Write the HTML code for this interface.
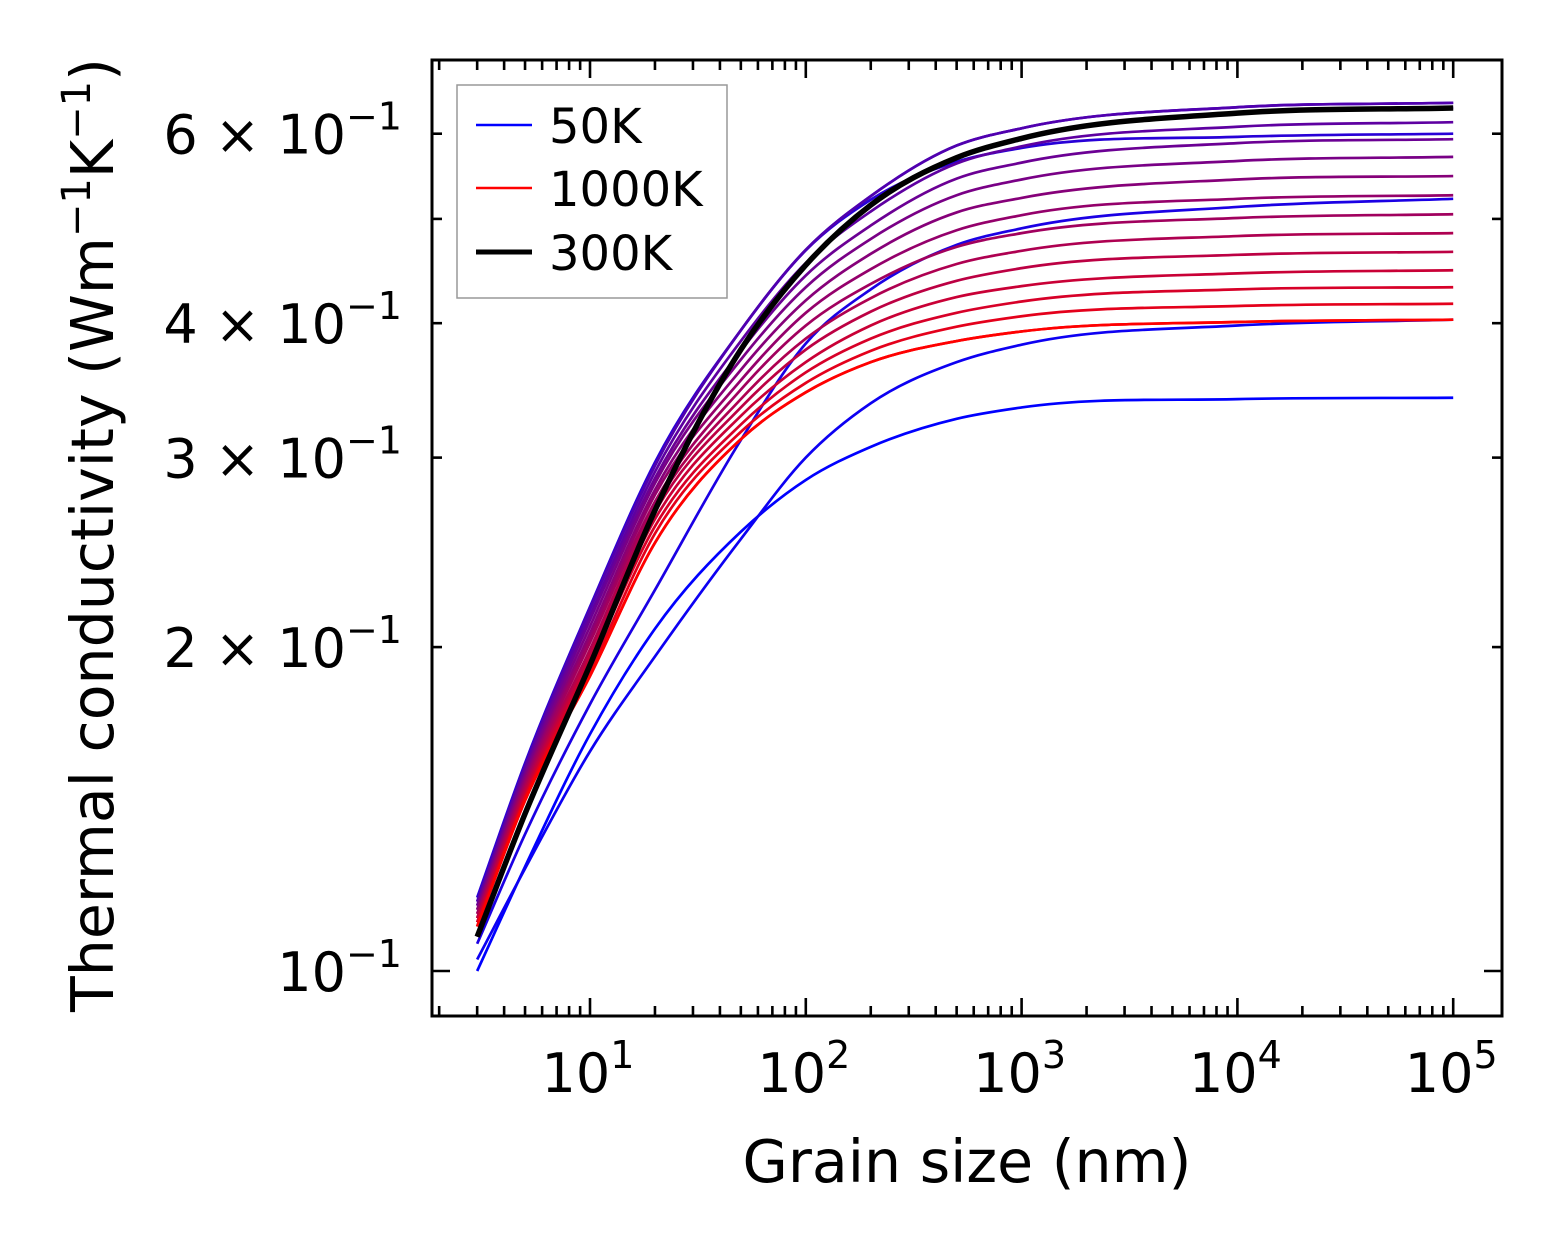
<!DOCTYPE html>
<html><head><meta charset="utf-8"><style>
html,body{margin:0;padding:0;background:#fff;}
svg{display:block;font-family:"DejaVu Sans","Liberation Sans",sans-serif;}
</style></head><body>
<svg id="chart" width="1562" height="1254" viewBox="0 0 1562 1254" xmlns="http://www.w3.org/2000/svg">
<rect x="0" y="0" width="1562" height="1254" fill="#fff"/>
<g id="curves"></g>
<g id="ticks"></g>
<rect x="432" y="60" width="1070" height="956" fill="none" stroke="#000" stroke-width="3"/>
<g id="xlabels" font-size="54" text-anchor="middle"></g>
<g id="ylabels" font-size="54" text-anchor="end"></g>
<text x="967" y="1182" font-size="58.5" text-anchor="middle">Grain size (nm)</text>
<text transform="translate(113,535) rotate(-90)" font-size="58.5" text-anchor="middle">Thermal conductivity (Wm<tspan font-size="40" dy="-23">−1</tspan><tspan dy="23">K</tspan><tspan font-size="40" dy="-23">−1</tspan><tspan dy="23">)</tspan></text>
<g>
<rect x="457" y="85" width="270" height="213" fill="#fff" stroke="#999" stroke-width="1.5"/>
<g><line x1="476" y1="125" x2="532" y2="125" stroke="#0000ff" stroke-width="2.6"/><text x="549" y="143" font-size="48">50K</text></g>
<g><line x1="476" y1="188" x2="532" y2="188" stroke="#ff0000" stroke-width="2.6"/><text x="549" y="206" font-size="48">1000K</text></g>
<g><line x1="476" y1="252" x2="532" y2="252" stroke="#000" stroke-width="5"/><text x="549" y="270" font-size="48">300K</text></g>
</g>
</svg>
<script>
// Grain sizes (nm) at which values were read
const grainSizes = [3, 5, 10, 20, 50, 100, 200, 500, 1000, 10000, 100000];
// Temperatures (K) of the colored series
const temperatures = [50,100,150,200,250,300,350,400,450,500,550,600,650,700,750,800,850,900,950,1000];
const k50   = [0.100,0.125,0.166,0.208,0.256,0.286,0.307,0.326,0.334,0.340,0.341];
const k100  = [0.1025,0.1245,0.160,0.196,0.252,0.300,0.337,0.368,0.382,0.398,0.403];
const k150  = [0.106,0.134,0.177,0.226,0.3115,0.383,0.430,0.473,0.490,0.513,0.522];
const k200  = [0.117,0.156,0.218,0.297,0.394,0.4675,0.521,0.565,0.582,0.596,0.600];
const k250  = [0.116,0.155,0.217,0.295,0.394,0.468,0.525,0.585,0.607,0.635,0.641];
const k300  = [0.1076,0.140,0.1925,0.268,0.378,0.453,0.515,0.570,0.594,0.627,0.634];
const k350  = [0.116,0.155,0.217,0.295,0.394,0.468,0.525,0.585,0.607,0.635,0.641];
const k400  = [0.115,0.154,0.214,0.291,0.385,0.455,0.508,0.563,0.584,0.609,0.615];
const k450  = [0.115,0.153,0.212,0.287,0.377,0.443,0.493,0.545,0.564,0.588,0.593];
const k500  = [0.114,0.152,0.209,0.284,0.370,0.432,0.479,0.526,0.544,0.566,0.571];
const k550  = [0.114,0.151,0.206,0.280,0.362,0.420,0.464,0.507,0.523,0.544,0.548];
const k600  = [0.113,0.150,0.204,0.277,0.354,0.409,0.449,0.488,0.504,0.522,0.526];
const k650  = [0.113,0.149,0.202,0.273,0.347,0.398,0.435,0.471,0.485,0.501,0.505];
const k700  = [0.112,0.148,0.199,0.270,0.340,0.387,0.422,0.454,0.467,0.482,0.485];
const k750  = [0.112,0.147,0.197,0.267,0.334,0.378,0.410,0.438,0.450,0.463,0.466];
const k800  = [0.111,0.146,0.195,0.263,0.328,0.368,0.398,0.423,0.433,0.445,0.448];
const k850  = [0.111,0.145,0.193,0.259,0.322,0.360,0.387,0.409,0.419,0.430,0.432];
const k900  = [0.110,0.145,0.190,0.255,0.317,0.352,0.377,0.397,0.406,0.415,0.417];
const k950  = [0.110,0.144,0.188,0.250,0.312,0.345,0.368,0.385,0.393,0.401,0.403];
const k1000 = [0.110,0.144,0.188,0.250,0.312,0.345,0.368,0.385,0.393,0.401,0.403];
const k300black = [0.1076,0.140,0.1925,0.268,0.378,0.453,0.515,0.570,0.594,0.627,0.634];
const yTickValues = [0.1, 0.2, 0.3, 0.4, 0.6];
const yTickMantissa = ["", "2", "3", "4", "6"];
const xTickExponents = [1, 2, 3, 4, 5];

const series = [k50,k100,k150,k200,k250,k300,k350,k400,k450,k500,k550,k600,k650,k700,k750,k800,k850,k900,k950,k1000];
const NS = "http://www.w3.org/2000/svg";
const PX_PER_DEC_X = 215.8, X10 = 590;
const PX_PER_DEC_Y = 1076, Y01 = 971;
function xScale(v){ return X10 + (Math.log10(v) - 1) * PX_PER_DEC_X; }
function yScale(v){ return Y01 - (Math.log10(v) + 1) * PX_PER_DEC_Y; }

function smoothPath(xs, ys){
  const n = xs.length, d = [], h = [], m = new Array(n);
  for (let i=0;i<n-1;i++){ h.push(xs[i+1]-xs[i]); d.push((ys[i+1]-ys[i])/h[i]); }
  m[0]=d[0]; m[n-1]=d[n-2];
  for (let i=1;i<n-1;i++){
    m[i] = (h[i]*d[i-1] + h[i-1]*d[i])/(h[i-1]+h[i]);
    if (d[i-1]*d[i] <= 0) m[i]=0;
  }
  let p = "M"+xs[0].toFixed(2)+","+ys[0].toFixed(2);
  for (let i=0;i<n-1;i++){
    const hh=h[i];
    p += " C"+(xs[i]+hh/3).toFixed(2)+","+(ys[i]+m[i]*hh/3).toFixed(2)+" "+(xs[i+1]-hh/3).toFixed(2)+","+(ys[i+1]-m[i+1]*hh/3).toFixed(2)+" "+xs[i+1].toFixed(2)+","+ys[i+1].toFixed(2);
  }
  return p;
}
const xsPx = grainSizes.map(xScale);
const curves = document.getElementById("curves");
function addCurve(vals, color, width, name){
  const path = document.createElementNS(NS, "path");
  path.setAttribute("d", smoothPath(xsPx, vals.map(yScale)));
  path.setAttribute("fill", "none");
  path.setAttribute("stroke", color);
  path.setAttribute("stroke-width", width);
  
  
  curves.appendChild(path);
}
series.forEach((vals, i) => {
  const t = (temperatures[i]-50)/950;
  const col = "rgb(" + Math.round(255*t) + ",0," + Math.round(255*(1-t)) + ")";
  addCurve(vals, col, 2.7, "curve-" + temperatures[i] + "k");
});
addCurve(k300black, "#000", 5.5, "curve-300k-highlight");

const ticks = document.getElementById("ticks");
function tick(x1,y1,x2,y2,name){
  const l = document.createElementNS(NS, "line");
  l.setAttribute("x1",x1); l.setAttribute("y1",y1); l.setAttribute("x2",x2); l.setAttribute("y2",y2);
  l.setAttribute("stroke","#000"); l.setAttribute("stroke-width","2.6");
  
  
  ticks.appendChild(l);
}
for (let e=0;e<=5;e++){
  for (let m=1;m<=9;m++){
    const v = m*Math.pow(10,e);
    const x = xScale(v);
    if (x < 434 || x > 1500) continue;
    const len = m===1 ? 18 : 10;
    tick(x,1016,x,1016-len,"x-tick");
    tick(x,60,x,60+len,"x-tick-top");
  }
}
for (let m=1;m<=9;m++){
  const v = m/10;
  const y = yScale(v);
  if (y < 62 || y > 1014) continue;
  const len = m===1 ? 18 : 10;
  tick(432,y,432+len,y,"y-tick");
  tick(1502,y,1502-len,y,"y-tick-right");
}
const xl = document.getElementById("xlabels");
xTickExponents.forEach(e => {
  const t = document.createElementNS(NS, "text");
  t.setAttribute("x", xScale(Math.pow(10,e)) - 2);
  t.setAttribute("y", 1092);
  
  
  t.innerHTML = '10<tspan font-size="38" dy="-24">' + e + '</tspan>';
  xl.appendChild(t);
});
const yl = document.getElementById("ylabels");
yTickValues.forEach((v, i) => {
  const t = document.createElementNS(NS, "text");
  t.setAttribute("x", 402);
  t.setAttribute("y", yScale(v) + 20);
  
  
  const pre = yTickMantissa[i] ? yTickMantissa[i] + ' × ' : '';
  t.innerHTML = pre + '10<tspan font-size="38" dy="-24">−1</tspan>';
  yl.appendChild(t);
});
</script>
</body></html>
